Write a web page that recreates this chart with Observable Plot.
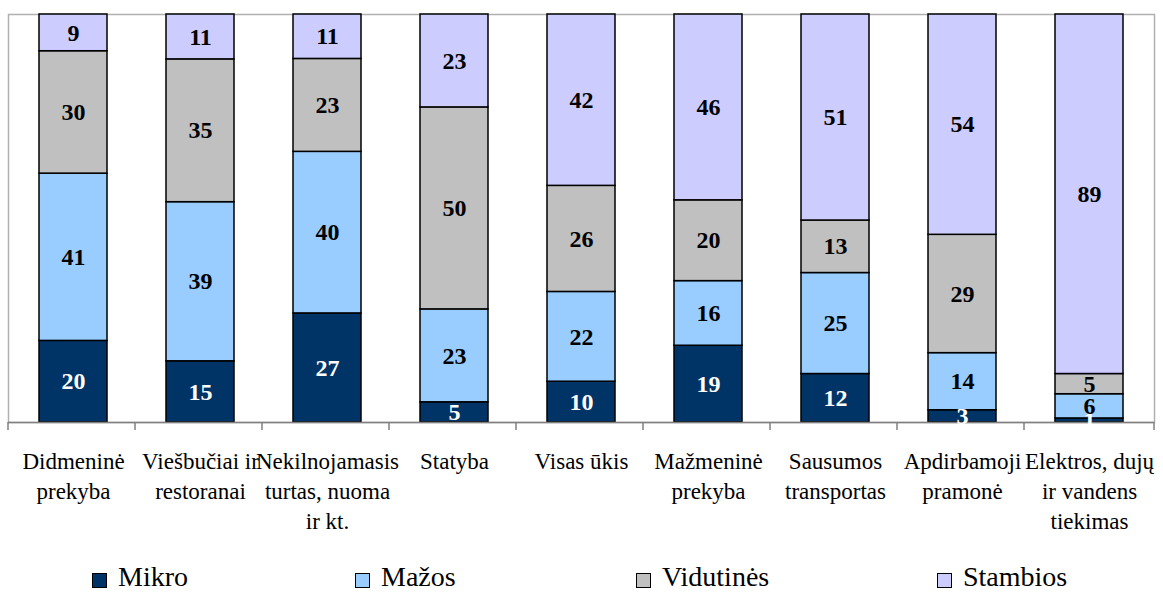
<!DOCTYPE html>
<html><head><meta charset="utf-8">
<script src="https://cdn.jsdelivr.net/npm/d3@7"></script>
<script src="https://cdn.jsdelivr.net/npm/@observablehq/plot@0.6"></script>
</head><body style="margin:0;background:#fff;font-family:'Liberation Serif', serif;">
<div id="pbox"></div><div id="kbox" style="position:relative;width:1163px;height:39px;"></div>
<script>
const FONT = '"Liberation Serif", serif';
const categories = [
  "Didmeninė\nprekyba",
  "Viešbučiai ir\nrestoranai",
  "Nekilnojamasis\nturtas, nuoma\nir kt.",
  "Statyba",
  "Visas ūkis",
  "Mažmeninė\nprekyba",
  "Sausumos\ntransportas",
  "Apdirbamoji\npramonė",
  "Elektros, dujų\nir vandens\ntiekimas"
];
const series = ["Mikro", "Mažos", "Vidutinės", "Stambios"];
const mikro     = [20, 15, 27, 5, 10, 19, 12, 3, 1];
const mazos     = [41, 39, 40, 23, 22, 16, 25, 14, 6];
const vidutines = [30, 35, 23, 50, 26, 20, 13, 29, 5];
const stambios  = [9, 11, 11, 23, 42, 46, 51, 54, 89];
const colors = ["#003366", "#99CCFF", "#C0C0C0", "#CCCCFF"];

const seriesValues = [mikro, mazos, vidutines, stambios];
const rows = [];
categories.forEach((c, i) => {
  series.forEach((s, j) => rows.push({cat: c, series: s, value: seriesValues[j][i]}));
});

function boundaryTicks(index, scales, values, dims) {
  const x = scales.x;
  const off = x(categories[0]) - dims.marginLeft;
  const y0 = dims.height - dims.marginBottom;
  const g = document.createElementNS("http://www.w3.org/2000/svg", "g");
  const xs = categories.map(c => x(c) - off);
  xs.push(dims.width - dims.marginRight);
  for (const px of xs) {
    const l = document.createElementNS("http://www.w3.org/2000/svg", "line");
    l.setAttribute("x1", px); l.setAttribute("x2", px);
    l.setAttribute("y1", y0); l.setAttribute("y2", y0 + 8);
    l.setAttribute("stroke", "#808080"); l.setAttribute("stroke-width", 1.5);
    g.appendChild(l);
  }
  return g;
}

const stackOpts = {x: "cat", y: "value", z: "series", offset: "normalize", order: series};

const plotEl = Plot.plot({
  width: 1163,
  height: 555,
  marginLeft: 8,
  marginRight: 9,
  marginTop: 14,
  marginBottom: 133,
  style: {fontFamily: FONT, background: "#fff"},
  x: {type: "band", domain: categories, paddingInner: 0.466, paddingOuter: 0.233},
  y: {domain: [0, 1], axis: null},
  color: {type: "ordinal", domain: series, range: colors},
  marks: [
    Plot.frame({stroke: "#b0b0b0", strokeWidth: 1.5}),
    Plot.barY(rows, Plot.stackY({...stackOpts, fill: "series", stroke: "#000", strokeWidth: 1.5})),
    Plot.ruleY([0], {stroke: "#808080", strokeWidth: 1.5}),
    boundaryTicks,
    Plot.text(rows, Plot.stackY({...stackOpts, text: d => d.series === "Mikro" ? String(d.value) : "", fill: "white", fontSize: 24, fontWeight: "bold", fontFamily: "Liberation Serif"})),
    Plot.text(rows, Plot.stackY({...stackOpts, text: d => d.series !== "Mikro" ? String(d.value) : "", fill: "black", fontSize: 24, fontWeight: "bold", fontFamily: "Liberation Serif"})),
    Plot.axisX({tickSize: 0, tickPadding: 25, fontSize: 23, lineHeight: 1.3, fill: "#000", label: null, fontFamily: "Liberation Serif"})
  ]
});
document.getElementById("pbox").appendChild(plotEl);

const legendX = [92, 355, 636, 937];
const kbox = document.getElementById("kbox");
series.forEach((s, i) => {
  const sw = document.createElement("div");
  sw.style.cssText = `position:absolute;left:${legendX[i]}px;top:18px;width:13px;height:13px;border:1.5px solid #000;background:${colors[i]};`;
  kbox.appendChild(sw);
  const t = document.createElement("div");
  t.style.position = "absolute";
  t.style.left = (legendX[i] + 26) + "px";
  t.style.top = "6px";
  t.style.fontSize = "28px";
  t.style.lineHeight = "32px";
  t.style.color = "#000";
  t.style.whiteSpace = "nowrap";
  t.style.fontFamily = FONT;
  t.textContent = s;
  kbox.appendChild(t);
});
</script>
</body></html>
